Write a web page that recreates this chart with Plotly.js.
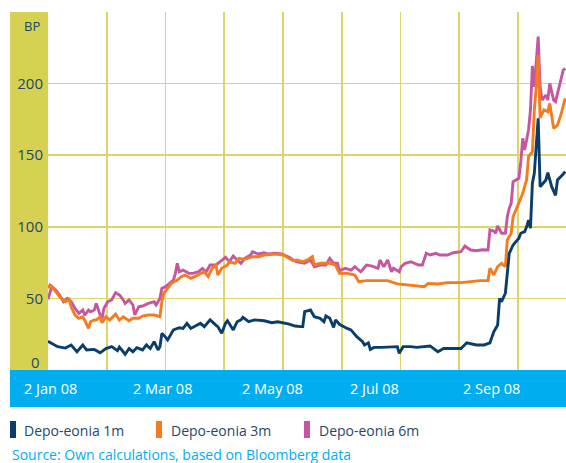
<!DOCTYPE html>
<html><head><meta charset="utf-8">
<script src="https://cdn.plot.ly/plotly-3.0.1.min.js"></script>
<style>html,body{margin:0;padding:0;background:#fff;overflow:hidden}#chart{width:566px;height:463px}</style>
</head><body><div id="chart"></div>
<script>
var seriesNames = ['Depo-eonia 1m', 'Depo-eonia 3m', 'Depo-eonia 6m'];
var xTickLabels = ['2 Jan 08', '2 Mar 08', '2 May 08', '2 Jul 08', '2 Sep 08'];
var yTickValues = [50, 100, 150, 200, 250];
var yTickLabels = ['50', '100', '150', '200', ''];

var navyDates = ['2008-01-02','2008-01-07','2008-01-11','2008-01-14','2008-01-17','2008-01-20','2008-01-22','2008-01-26','2008-01-29','2008-02-01','2008-02-04','2008-02-07','2008-02-08','2008-02-11','2008-02-13','2008-02-15','2008-02-17','2008-02-20','2008-02-22','2008-02-24','2008-02-26','2008-02-27','2008-02-28','2008-02-29','2008-03-01','2008-03-03','2008-03-04','2008-03-07','2008-03-10','2008-03-12','2008-03-14','2008-03-16','2008-03-18','2008-03-21','2008-03-23','2008-03-26','2008-03-29','2008-03-30','2008-04-01','2008-04-03','2008-04-04','2008-04-07','2008-04-09','2008-04-11','2008-04-12','2008-04-15','2008-04-18','2008-04-23','2008-04-27','2008-04-30','2008-05-06','2008-05-09','2008-05-12','2008-05-13','2008-05-14','2008-05-17','2008-05-19','2008-05-22','2008-05-24','2008-05-25','2008-05-27','2008-05-29','2008-05-30','2008-06-01','2008-06-05','2008-06-07','2008-06-10','2008-06-13','2008-06-14','2008-06-16','2008-06-17','2008-06-19','2008-06-23','2008-06-27','2008-07-01','2008-07-02','2008-07-04','2008-07-08','2008-07-11','2008-07-18','2008-07-22','2008-07-25','2008-08-03','2008-08-06','2008-08-11','2008-08-15','2008-08-18','2008-08-20','2008-08-22','2008-08-23','2008-08-24','2008-08-26','2008-08-27','2008-08-28','2008-08-30','2008-09-02','2008-09-03','2008-09-05','2008-09-06','2008-09-07','2008-09-08','2008-09-09','2008-09-10','2008-09-12','2008-09-13','2008-09-16','2008-09-17','2008-09-19','2008-09-21','2008-09-22','2008-09-25','2008-09-26'];
var navyValues = [20,16.3,15.3,17.4,12.8,17.5,14,14.4,12,15,16.3,13.5,16,11,15,12.8,15.6,14,17.5,15,19.8,16.3,14,16.3,25.6,22.8,21,28,29.5,29,32.6,29,30.3,32.6,30.3,35,31.4,30.3,25.6,32.6,34.4,28,33.7,35,36.8,33.7,35,34.4,33,33.7,32,30.7,30.3,30.3,40.7,41.9,37.2,36.1,33.7,37.7,36.1,29.8,35,31.9,29,28,23.3,19.8,17.5,19,14.4,15.8,15.8,16,16.3,11.6,16.3,16.3,15.8,16.8,12.8,15,15,19,17.5,17.5,19,26.7,31.4,50,47.7,53.6,69.8,81.5,87.3,92,95.5,96.6,100,104.7,99,130.4,137.3,175.8,128,132.7,137.8,128,122,132.7,136.9,138.5];

var orangeDates = ['2008-01-02','2008-01-03','2008-01-06','2008-01-08','2008-01-11','2008-01-13','2008-01-14','2008-01-16','2008-01-18','2008-01-20','2008-01-21','2008-01-23','2008-01-24','2008-01-26','2008-01-27','2008-01-29','2008-01-30','2008-02-01','2008-02-03','2008-02-06','2008-02-08','2008-02-10','2008-02-13','2008-02-15','2008-02-18','2008-02-20','2008-02-23','2008-02-26','2008-02-29','2008-03-01','2008-03-02','2008-03-04','2008-03-06','2008-03-09','2008-03-11','2008-03-13','2008-03-16','2008-03-18','2008-03-21','2008-03-23','2008-03-25','2008-03-27','2008-03-29','2008-03-30','2008-04-01','2008-04-04','2008-04-05','2008-04-08','2008-04-10','2008-04-13','2008-04-17','2008-04-20','2008-04-23','2008-04-29','2008-05-03','2008-05-06','2008-05-08','2008-05-10','2008-05-13','2008-05-16','2008-05-18','2008-05-19','2008-05-22','2008-05-25','2008-05-27','2008-05-30','2008-06-01','2008-06-05','2008-06-09','2008-06-11','2008-06-15','2008-06-20','2008-06-26','2008-07-01','2008-07-06','2008-07-12','2008-07-15','2008-07-17','2008-07-22','2008-07-27','2008-08-03','2008-08-08','2008-08-13','2008-08-17','2008-08-18','2008-08-20','2008-08-22','2008-08-24','2008-08-26','2008-08-27','2008-08-29','2008-08-30','2008-09-02','2008-09-04','2008-09-06','2008-09-07','2008-09-09','2008-09-10','2008-09-11','2008-09-12','2008-09-13','2008-09-15','2008-09-17','2008-09-18','2008-09-20','2008-09-21','2008-09-22','2008-09-24','2008-09-26'];
var orangeValues = [57,59.4,54.7,51.2,47.7,49.4,44.2,38.4,36.1,37.2,34.9,29.1,33.7,34.9,34.9,37.2,33,37.2,34.9,39.1,34.9,37.2,34.4,36.1,36.1,37.7,38.4,38.4,37.2,47.7,53.6,57,60.5,62.8,65.2,66.3,64,65.2,67.5,68.6,65.2,71,73.3,66.3,71,73.3,75.6,74.5,78,77.3,79.1,79.1,80.3,81,80.3,78,76.3,76.8,75.6,77.3,79.1,73.3,74.5,74.5,74.5,73.3,67.5,67.5,66.3,61.7,62.4,62.4,62.4,60.1,59.4,58.7,58.2,60.5,60.1,61,61,61.7,62.4,62.4,71,66.3,72.1,74.5,72.1,90.8,95.5,107,117.5,123.4,132.7,149,152.4,181.6,197.8,220,176,181.6,180.4,186.2,168.8,170,171,179.3,189.7];

var pinkDates = ['2008-01-02','2008-01-04','2008-01-06','2008-01-08','2008-01-10','2008-01-12','2008-01-14','2008-01-16','2008-01-18','2008-01-20','2008-01-21','2008-01-23','2008-01-24','2008-01-26','2008-01-27','2008-01-29','2008-01-30','2008-01-31','2008-02-02','2008-02-04','2008-02-06','2008-02-08','2008-02-10','2008-02-11','2008-02-13','2008-02-15','2008-02-16','2008-02-18','2008-02-20','2008-02-23','2008-02-26','2008-02-27','2008-02-29','2008-03-01','2008-03-03','2008-03-05','2008-03-07','2008-03-08','2008-03-09','2008-03-10','2008-03-12','2008-03-15','2008-03-17','2008-03-20','2008-03-22','2008-03-24','2008-03-26','2008-03-29','2008-03-31','2008-04-03','2008-04-05','2008-04-07','2008-04-09','2008-04-11','2008-04-13','2008-04-16','2008-04-17','2008-04-20','2008-04-23','2008-04-25','2008-04-29','2008-05-02','2008-05-06','2008-05-08','2008-05-10','2008-05-14','2008-05-17','2008-05-19','2008-05-22','2008-05-25','2008-05-27','2008-05-29','2008-05-31','2008-06-01','2008-06-04','2008-06-07','2008-06-09','2008-06-12','2008-06-13','2008-06-15','2008-06-18','2008-06-21','2008-06-22','2008-06-24','2008-06-26','2008-06-28','2008-06-29','2008-07-02','2008-07-03','2008-07-05','2008-07-08','2008-07-10','2008-07-12','2008-07-14','2008-07-16','2008-07-18','2008-07-21','2008-07-23','2008-07-27','2008-07-30','2008-08-03','2008-08-05','2008-08-08','2008-08-11','2008-08-14','2008-08-17','2008-08-18','2008-08-20','2008-08-21','2008-08-22','2008-08-24','2008-08-26','2008-08-27','2008-08-28','2008-08-29','2008-08-30','2008-09-02','2008-09-03','2008-09-04','2008-09-05','2008-09-07','2008-09-08','2008-09-09','2008-09-10','2008-09-12','2008-09-13','2008-09-14','2008-09-16','2008-09-17','2008-09-18','2008-09-20','2008-09-21','2008-09-23','2008-09-25','2008-09-26'];
var pinkValues = [49.4,58.2,55.9,52.4,47.7,50,47.7,43.1,39.6,41.9,38.4,41.9,40.7,41.9,46.5,38.4,36.1,43.1,47.7,48.9,54,52.4,48.9,46.5,48.9,45.4,38.4,44.2,44.7,46.5,47.7,45.4,50,57,58.2,60.5,62.8,67.5,74.5,68.6,69.8,67.5,67.5,68.6,71,68.6,73.3,73.3,75.6,78.7,75.6,79.6,76.8,74.5,78,80.3,82.6,81,81.9,81,81.5,81,78.7,76.8,75.6,74.5,76.8,72.1,73.3,73.3,78,74.5,74.5,69.3,71,69.8,72.1,68.6,70,73.3,72.5,71,76.8,72,76.8,68.6,71,68.6,72.1,74.5,75.6,74.5,73.3,73.3,81.5,80.3,81.5,80.3,80.3,81.9,82.6,86.6,83.8,83.3,84,83.8,97.8,97,95.5,100.6,95.5,95.5,107,112.9,116.4,131.5,133.9,145.5,161.8,153.6,167.6,181.6,212.3,197.8,232.8,197.8,188.5,192,188.5,200.2,188.5,187.4,197.8,209.5,210.6];

var colors = ['#0b3d6b', '#f47b20', '#c6579f'];
var FONT = 'Open Sans, Noto Sans, sans-serif';
var NAVY_TEXT = '#24476a';
var CYAN = '#00aeef';
var GRID = '#dcd66a';

var traces = [
  {x: navyDates, y: navyValues, name: seriesNames[0]},
  {x: orangeDates, y: orangeValues, name: seriesNames[1]},
  {x: pinkDates, y: pinkValues, name: seriesNames[2]}
].map(function (t, i) {
  t.type = 'scatter'; t.mode = 'lines';
  t.line = {color: colors[i], width: 2.9};
  t.hoverinfo = 'skip';
  return t;
});
// draw order: pink, orange, navy on top
traces = [traces[2], traces[1], traces[0]];

// plot area geometry in paper units (plot spans 518 x 358 px)
function px(v) { return v / 518; }
function py(v) { return v / 358; }

var shapes = [
  {type: 'rect', xref: 'paper', yref: 'paper', x0: px(-38), x1: 0, y0: 0, y1: 1, fillcolor: '#d6d152', line: {width: 0}, layer: 'below'},
  {type: 'rect', xref: 'paper', yref: 'paper', x0: px(-38), x1: 1, y0: py(-37), y1: 0, fillcolor: CYAN, line: {width: 0}, layer: 'below'}
];
var legendSwatchX = [-38, 108, 256];
var legendTextX = [-26, 121, 269];
legendSwatchX.forEach(function (sx, i) {
  shapes.push({type: 'rect', xref: 'paper', yref: 'paper', x0: px(sx), x1: px(sx + 6), y0: py(-68), y1: py(-51),
    fillcolor: colors[i], line: {width: 0}});
});

var annotations = [];
var xLabelPos = [2, 114.5, 224, 326, 443];
xTickLabels.forEach(function (t, i) {
  annotations.push({xref: 'paper', yref: 'paper', x: px(xLabelPos[i]), y: py(-18), text: t, showarrow: false,
    xanchor: 'center', yanchor: 'middle', font: {family: FONT, size: 14.5, color: '#ffffff'}});
});
annotations.push({xref: 'paper', yref: 'paper', x: px(-6), y: py(344), text: 'BP', showarrow: false,
  xanchor: 'right', yanchor: 'middle', font: {family: FONT, size: 13, color: NAVY_TEXT}});
annotations.push({xref: 'paper', yref: 'paper', x: px(-6), y: py(8), text: '0', showarrow: false,
  xanchor: 'right', yanchor: 'middle', font: {family: FONT, size: 15, color: NAVY_TEXT}});
seriesNames.forEach(function (n, i) {
  annotations.push({xref: 'paper', yref: 'paper', x: px(legendTextX[i]), y: py(-60), text: n, showarrow: false,
    xanchor: 'left', yanchor: 'middle', font: {family: FONT, size: 14, color: NAVY_TEXT}});
});
annotations.push({xref: 'paper', yref: 'paper', x: px(-38), y: py(-85), text: 'Source: Own calculations, based on Bloomberg data',
  showarrow: false, xanchor: 'left', yanchor: 'middle', font: {family: FONT, size: 14, color: CYAN}});

var layout = {
  width: 566, height: 463,
  margin: {l: 48, r: 0, t: 12, b: 93, pad: 0},
  paper_bgcolor: '#ffffff', plot_bgcolor: '#ffffff',
  showlegend: false,
  font: {family: FONT, color: NAVY_TEXT},
  xaxis: {
    type: 'date', range: ['2008-01-02', '2008-09-26 10:00'],
    tick0: '2008-01-02', dtick: 2629800000,
    showticklabels: false, ticks: '', showgrid: true, gridcolor: GRID, gridwidth: 1.6,
    zeroline: false, showline: false, fixedrange: true
  },
  yaxis: {
    range: [0, 250], tickmode: 'array', tickvals: yTickValues, ticktext: yTickLabels,
    ticks: '', showgrid: true, gridcolor: GRID, gridwidth: 1.6, zeroline: false, showline: false,
    ticklabelstandoff: 4,
    tickfont: {family: FONT, size: 15, color: NAVY_TEXT}, fixedrange: true
  },
  shapes: shapes,
  annotations: annotations
};

Plotly.newPlot('chart', traces, layout, {staticPlot: true, displayModeBar: false});
</script></body></html>
